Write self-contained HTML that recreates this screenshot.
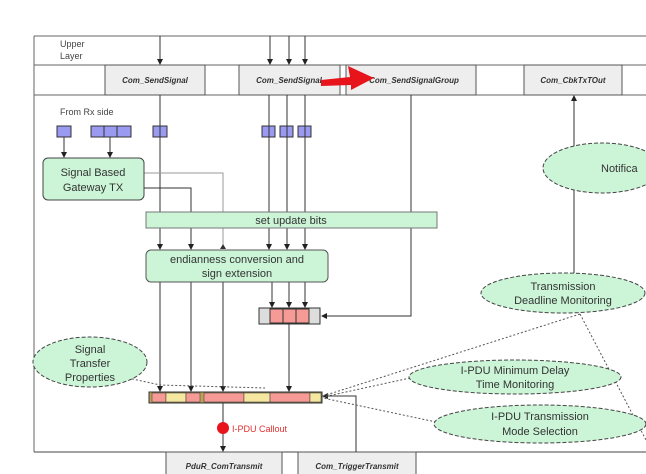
<!DOCTYPE html>
<html><head><meta charset="utf-8"><style>
html,body{margin:0;padding:0;background:#fff;}
svg{display:block;font-family:"Liberation Sans",sans-serif;}
</style></head><body>
<svg width="646" height="474" viewBox="0 0 646 474" xmlns="http://www.w3.org/2000/svg">
<defs>
<marker id="a" markerWidth="6" markerHeight="6" refX="5" refY="3" orient="auto" markerUnits="userSpaceOnUse"><path d="M0,0 L6,3 L0,6 z" fill="#222"/></marker>
</defs>
<line x1="34" y1="36" x2="646" y2="36" stroke="#666" stroke-width="1"/>
<line x1="34" y1="36" x2="34" y2="452" stroke="#666"/>
<line x1="34" y1="65" x2="646" y2="65" stroke="#666"/>
<line x1="34" y1="95" x2="646" y2="95" stroke="#666"/>
<line x1="34" y1="452" x2="646" y2="452" stroke="#444"/>
<text x="60" y="47" font-size="9" fill="#444">Upper</text>
<text x="60" y="59" font-size="9" fill="#444">Layer</text>
<g fill="#eee" stroke="#555">
<rect x="105" y="65" width="100" height="30"/>
<rect x="239" y="65" width="101" height="30"/>
<rect x="346" y="65" width="130" height="30"/>
<rect x="524" y="65" width="98" height="30"/>
<rect x="166" y="452" width="116" height="24"/>
<rect x="298" y="452" width="118" height="24"/>
</g>
<g font-size="8" font-weight="bold" font-style="italic" fill="#333" text-anchor="middle">
<text x="155" y="83">Com_SendSignal</text>
<text x="289" y="83">Com_SendSignal</text>
<text x="414" y="83">Com_SendSignalGroup</text>
<text x="573" y="83">Com_CbkTxTOut</text>
<text x="224" y="469">PduR_ComTransmit</text>
<text x="357" y="469">Com_TriggerTransmit</text>
</g>
<g stroke="#333" marker-end="url(#a)">
<line x1="160" y1="36" x2="160" y2="64"/>
<line x1="270" y1="36" x2="270" y2="64"/>
<line x1="289" y1="36" x2="289" y2="64"/>
<line x1="305" y1="36" x2="305" y2="64"/>
</g>
<path d="M321,80 L350,77 L348,66 L374,78 L351,90 L351,85 L321,86 z" fill="#e8141c"/>
<text x="60" y="115" font-size="9" fill="#444">From Rx side</text>
<g fill="#9a9af0" stroke="#333">
<rect x="57" y="126" width="14" height="11"/>
<rect x="91" y="126" width="13" height="11"/><rect x="104" y="126" width="13" height="11"/><rect x="117" y="126" width="14" height="11"/>
<rect x="153" y="126" width="14" height="11"/>
<rect x="262" y="126" width="13" height="11"/><rect x="280" y="126" width="13" height="11"/><rect x="298" y="126" width="13" height="11"/>
</g>
<g stroke="#333" fill="none">
<line x1="64" y1="137" x2="64" y2="157" marker-end="url(#a)"/>
<line x1="110" y1="137" x2="110" y2="157" marker-end="url(#a)"/>
<line x1="160" y1="95" x2="160" y2="249" marker-end="url(#a)"/>
<line x1="269" y1="95" x2="269" y2="249" marker-end="url(#a)"/>
<line x1="287" y1="95" x2="287" y2="249" marker-end="url(#a)"/>
<line x1="305" y1="95" x2="305" y2="249" marker-end="url(#a)"/>
<polyline points="144,188 191,188 191,249" marker-end="url(#a)"/>
<polyline points="411,95 411,316 322,316" marker-end="url(#a)"/>
<line x1="574" y1="273" x2="574" y2="96" marker-end="url(#a)"/>
<line x1="160" y1="282" x2="160" y2="391" marker-end="url(#a)"/>
<line x1="191" y1="282" x2="191" y2="391" marker-end="url(#a)"/>
<line x1="223" y1="282" x2="223" y2="391" marker-end="url(#a)"/>
<line x1="272" y1="282" x2="272" y2="307" marker-end="url(#a)"/>
<line x1="289" y1="282" x2="289" y2="307" marker-end="url(#a)"/>
<line x1="305" y1="282" x2="305" y2="307" marker-end="url(#a)"/>
<line x1="289" y1="324" x2="289" y2="391" marker-end="url(#a)"/>
<line x1="223" y1="402" x2="223" y2="451" marker-end="url(#a)"/>
<polyline points="356,452 356,396 323,396" marker-end="url(#a)"/>
</g>
<polyline points="144,173 223,173 223,249" stroke="#999" fill="none"/>
<path d="M223,244 L220,249 L226,249 z" fill="#333"/>
<rect x="43" y="158" width="101" height="42" rx="5" fill="#ccf5d8" stroke="#444"/>
<text x="93" y="176" font-size="11" text-anchor="middle" fill="#333">Signal Based</text>
<text x="93" y="191" font-size="11" text-anchor="middle" fill="#333">Gateway TX</text>
<rect x="146" y="212" width="291" height="16" fill="#ccf5d8" stroke="#777"/>
<text x="291" y="224" font-size="11" text-anchor="middle" fill="#333">set update bits</text>
<rect x="146" y="250" width="182" height="32" rx="5" fill="#ccf5d8" stroke="#555"/>
<text x="237" y="263" font-size="11" text-anchor="middle" fill="#333">endianness conversion and</text>
<text x="237" y="277" font-size="11" text-anchor="middle" fill="#333">sign extension</text>
<rect x="259" y="308" width="61" height="16" fill="#ddd" stroke="#333"/>
<g fill="#f59a95" stroke="#333"><rect x="270" y="309" width="13" height="14"/><rect x="283" y="309" width="13" height="14"/><rect x="296" y="309" width="13" height="14"/></g>
<rect x="149" y="392" width="173" height="11" fill="#bba35a" stroke="#333"/>
<g stroke="#333" stroke-width="0.5">
<rect x="152" y="393" width="14" height="9" fill="#f59a95"/>
<rect x="166" y="393" width="20" height="9" fill="#f5e7a0"/>
<rect x="186" y="393" width="14" height="9" fill="#f59a95"/>
<rect x="204" y="393" width="40" height="9" fill="#f59a95"/>
<rect x="244" y="393" width="26" height="9" fill="#f5e7a0"/>
<rect x="270" y="393" width="40" height="9" fill="#f59a95"/>
<rect x="310" y="393" width="11" height="9" fill="#f5e7a0"/>
</g>
<circle cx="223" cy="428" r="6" fill="#e8141c"/>
<text x="232" y="432" font-size="9" fill="#e03030">I-PDU Callout</text>
<g stroke="#555" stroke-dasharray="2,2" fill="none">
<line x1="580" y1="314" x2="323" y2="396"/>
<line x1="580" y1="314" x2="646" y2="440"/>
<line x1="410" y1="378" x2="323" y2="397"/>
<line x1="436" y1="422" x2="323" y2="398"/>
<polyline points="128,378 160,385 265,388"/>
</g>
<g fill="#ccf5d8" stroke="#444" stroke-dasharray="4,2">
<ellipse cx="602" cy="168" rx="59" ry="25"/>
<ellipse cx="563" cy="293" rx="82" ry="20"/>
<ellipse cx="90" cy="362" rx="57" ry="25"/>
<ellipse cx="515" cy="377" rx="106" ry="17"/>
<ellipse cx="540" cy="424" rx="106" ry="19"/>
</g>
<g font-size="11" fill="#333" text-anchor="middle">
<text x="601" y="172" text-anchor="start">Notifica</text>
<text x="563" y="290">Transmission</text>
<text x="563" y="304">Deadline Monitoring</text>
<text x="90" y="353">Signal</text>
<text x="90" y="367">Transfer</text>
<text x="90" y="381">Properties</text>
<text x="515" y="374">I-PDU Minimum Delay</text>
<text x="515" y="388">Time Monitoring</text>
<text x="540" y="420">I-PDU Transmission</text>
<text x="540" y="435">Mode Selection</text>
</g>
</svg>
</body></html>
